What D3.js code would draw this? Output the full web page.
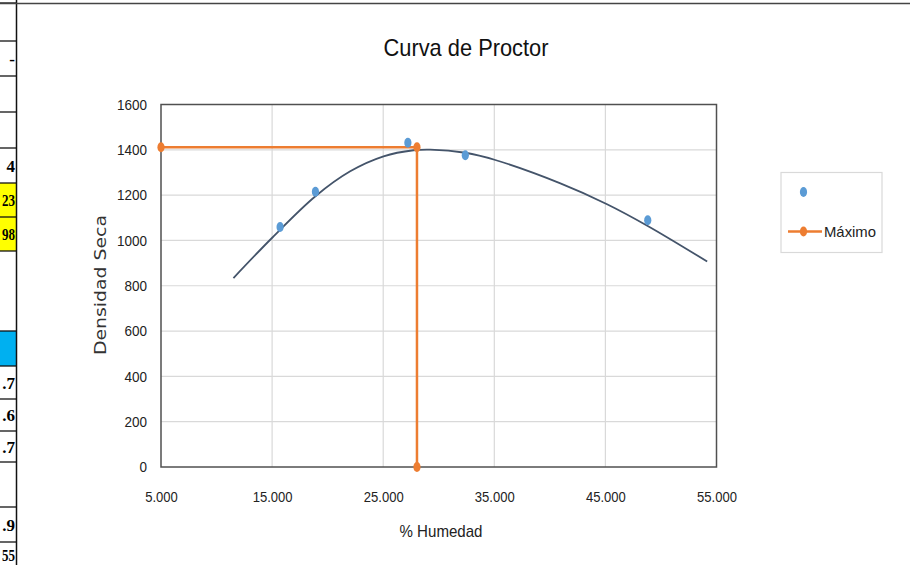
<!DOCTYPE html>
<html>
<head>
<meta charset="utf-8">
<script src="https://cdn.jsdelivr.net/npm/d3@7"></script>
<style>
  html, body { margin: 0; padding: 0; background: #fff; }
  svg { display: block; }
</style>
</head>
<body>
<div id="chart"></div>
<script>
// puntos medidos (humedad %, densidad seca)
const humedad = [15.72, 18.90, 27.22, 32.39, 48.81];
const densidad = [1059, 1215, 1431, 1376, 1089];

// serie "Máximo": línea horizontal y vertical al punto máximo
const maxHumedad = [5, 28.04, 28.04];
const maxDensidad = [1411, 1411, 0];

// línea de tendencia
const tendX = [11.52, 15.03, 18.90, 22.03, 25.03, 27.73, 29.23, 32.39, 35.09, 40.95, 45.15, 48.81, 54.16];
const tendY = [834, 1013, 1195, 1305, 1371, 1398, 1401, 1387, 1355, 1252, 1160, 1064, 907];

const xTicks = [5, 15, 25, 35, 45, 55];
const yTicks = [0, 200, 400, 600, 800, 1000, 1200, 1400, 1600];

// celdas de la hoja a la izquierda
const cellRows = [3, 41, 76, 112, 148, 183, 217, 251, 331, 366, 399, 431, 462, 507, 542, 580];
const cellTexts = ["", "-", "", "", "4", "23", "98", "", ".7", ".6", ".7", "", ".9", "55"];
const cellTextRow = [0, 1, 2, 3, 4, 5, 6, 7, 9, 10, 11, 12, 13, 14];

const W = 910, H = 565;
const sans = "'Liberation Sans', Arial, sans-serif";

// estrecha el texto como en el original
function condense(sel, f) {
  sel.each(function () {
    const w = this.getComputedTextLength();
    d3.select(this).attr('textLength', w * f).attr('lengthAdjust', 'spacingAndGlyphs');
  });
}

const svg = d3.select('#chart').append('svg')
  .attr('width', W).attr('height', H);

// --- fragmento de hoja de cálculo ---
const sheet = svg.append('g');
sheet.append('rect').attr('x', 0).attr('y', 183).attr('width', 16).attr('height', 68).attr('fill', '#ffff00');
sheet.append('rect').attr('x', 0).attr('y', 331).attr('width', 16).attr('height', 35).attr('fill', '#00b0f0');
sheet.selectAll('line.row')
  .data(cellRows.slice(0, -1))
  .join('line')
  .attr('class', 'row')
  .attr('x1', 0).attr('x2', 16)
  .attr('y1', d => d).attr('y2', d => d)
  .attr('stroke', '#111').attr('stroke-width', 1.3);
sheet.append('line')
  .attr('x1', 16.5).attr('x2', 16.5).attr('y1', 0).attr('y2', H)
  .attr('stroke', '#111').attr('stroke-width', 1.5);
sheet.selectAll('text')
  .data(cellTextRow)
  .join('text')
  .attr('x', 15)
  .attr('y', i => Math.min((cellRows[i] + cellRows[i + 1]) / 2 + 6, 561))
  .attr('text-anchor', 'end')
  .style('font', "bold 17px 'Liberation Serif', 'Times New Roman', serif")
  .text((i, k) => cellTexts[k])
  .each(function () {
    const w = this.getComputedTextLength();
    if (w > 13) d3.select(this).attr('textLength', 13).attr('lengthAdjust', 'spacingAndGlyphs');
  });

// borde superior
svg.append('line')
  .attr('x1', 0).attr('x2', W).attr('y1', 3.5).attr('y2', 3.5)
  .attr('stroke', '#444').attr('stroke-width', 1.5);

// --- gráfico ---
const x = d3.scaleLinear().domain([5, 55]).range([161, 716.5]);
const y = d3.scaleLinear().domain([0, 1600]).range([467, 104.5]);

// título
svg.append('text')
  .attr('x', 466).attr('y', 56)
  .attr('text-anchor', 'middle')
  .style('font', `24px ${sans}`)
  .attr('fill', '#111')
  .text('Curva de Proctor')
  .attr('textLength', 165).attr('lengthAdjust', 'spacingAndGlyphs');

// rejilla
svg.append('g')
  .selectAll('line')
  .data(yTicks.slice(1, -1))
  .join('line')
  .attr('x1', x(5)).attr('x2', x(55))
  .attr('y1', d => y(d)).attr('y2', d => y(d))
  .attr('stroke', '#d9d9d9').attr('stroke-width', 1.2);
svg.append('g')
  .selectAll('line')
  .data(xTicks.slice(1, -1))
  .join('line')
  .attr('y1', y(0)).attr('y2', y(1600))
  .attr('x1', d => x(d)).attr('x2', d => x(d))
  .attr('stroke', '#d9d9d9').attr('stroke-width', 1.2);

// marco del área de trazado
svg.append('rect')
  .attr('x', x(5)).attr('y', y(1600))
  .attr('width', x(55) - x(5)).attr('height', y(0) - y(1600))
  .attr('fill', 'none').attr('stroke', '#505050').attr('stroke-width', 1.5);

// ejes (solo etiquetas)
const xAxis = svg.append('g')
  .attr('transform', `translate(0,${y(0)})`)
  .call(d3.axisBottom(x).tickValues(xTicks).tickFormat(d3.format('.3f')).tickSize(0).tickPadding(24));
xAxis.select('.domain').remove();
xAxis.selectAll('text').style('font', `15px ${sans}`).attr('fill', '#222').call(condense, 0.87);

const yAxis = svg.append('g')
  .attr('transform', `translate(${x(5)},0)`)
  .call(d3.axisLeft(y).tickValues(yTicks).tickFormat(d3.format('d')).tickSize(0).tickPadding(14));
yAxis.select('.domain').remove();
yAxis.selectAll('text').style('font', `15px ${sans}`).attr('fill', '#222').call(condense, 0.9);

// títulos de ejes
svg.append('text')
  .attr('x', 441).attr('y', 537)
  .attr('text-anchor', 'middle')
  .style('font', `17px ${sans}`)
  .attr('fill', '#222')
  .text('% Humedad')
  .attr('textLength', 83).attr('lengthAdjust', 'spacingAndGlyphs');
svg.append('text')
  .attr('transform', 'translate(106,285) rotate(-90)')
  .attr('text-anchor', 'middle')
  .style('font', "15.5px 'DejaVu Sans', Verdana, sans-serif")
  .attr('fill', '#333')
  .text('Densidad Seca')
  .attr('textLength', 140).attr('lengthAdjust', 'spacingAndGlyphs');

// línea de tendencia
const tend = tendX.map((d, i) => [d, tendY[i]]);
svg.append('path')
  .datum(tend)
  .attr('fill', 'none')
  .attr('stroke', '#44546a')
  .attr('stroke-width', 1.8)
  .attr('d', d3.line().x(d => x(d[0])).y(d => y(d[1])).curve(d3.curveCatmullRom.alpha(0.5)));

// serie Máximo
const maxPts = maxHumedad.map((d, i) => [d, maxDensidad[i]]);
svg.append('path')
  .datum(maxPts)
  .attr('fill', 'none')
  .attr('stroke', '#ed7d31')
  .attr('stroke-width', 2.5)
  .attr('d', d3.line().x(d => x(d[0])).y(d => y(d[1])));

// puntos medidos
svg.append('g')
  .selectAll('ellipse')
  .data(humedad.map((d, i) => [d, densidad[i]]))
  .join('ellipse')
  .attr('cx', d => x(d[0])).attr('cy', d => y(d[1]))
  .attr('rx', 3.6).attr('ry', 5)
  .attr('fill', '#5b9bd5');

svg.append('g')
  .selectAll('ellipse')
  .data(maxPts)
  .join('ellipse')
  .attr('cx', d => x(d[0])).attr('cy', d => y(d[1]))
  .attr('rx', 3.6).attr('ry', 5)
  .attr('fill', '#ed7d31');

// leyenda
const leg = svg.append('g');
leg.append('rect')
  .attr('x', 781).attr('y', 172.5).attr('width', 101).attr('height', 80)
  .attr('fill', '#fff').attr('stroke', '#d9d9d9').attr('stroke-width', 1.2);
leg.append('ellipse')
  .attr('cx', 803.5).attr('cy', 192).attr('rx', 3.6).attr('ry', 5)
  .attr('fill', '#5b9bd5');
leg.append('line')
  .attr('x1', 788).attr('x2', 822).attr('y1', 231.5).attr('y2', 231.5)
  .attr('stroke', '#ed7d31').attr('stroke-width', 2.5);
leg.append('ellipse')
  .attr('cx', 803.5).attr('cy', 231.5).attr('rx', 3.6).attr('ry', 5)
  .attr('fill', '#ed7d31');
leg.append('text')
  .attr('x', 824).attr('y', 237)
  .style('font', `15px ${sans}`)
  .attr('fill', '#222')
  .text('Máximo')
  .attr('textLength', 52).attr('lengthAdjust', 'spacingAndGlyphs');
</script>
</body>
</html>
